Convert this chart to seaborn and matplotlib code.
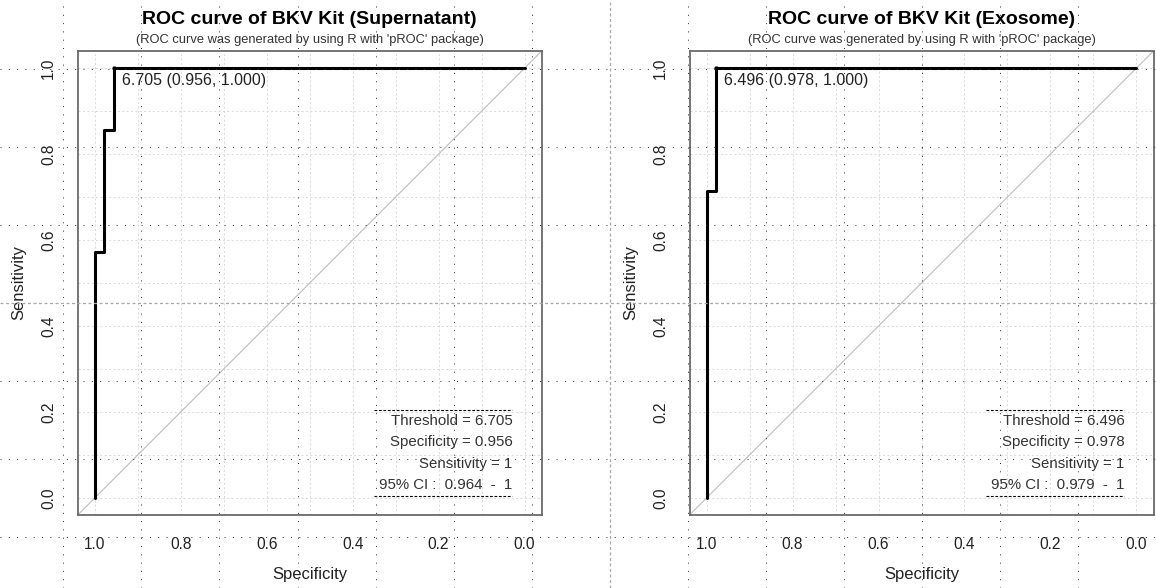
import numpy as np
import pandas as pd
import matplotlib
matplotlib.use("Agg")
import matplotlib.pyplot as plt
import seaborn as sns
from matplotlib.lines import Line2D

# ---------------- data ----------------
panel_titles = ["ROC curve of BKV Kit (Supernatant)", "ROC curve of BKV Kit (Exosome)"]
subtitle = "(ROC curve was generated by using R with 'pROC' package)"

sup_spec = [1.0, 1.0, 0.978, 0.978, 0.956, 0.956, 0.0]
sup_sens = [0.0, 0.571, 0.571, 0.857, 0.857, 1.0, 1.0]
exo_spec = [1.0, 1.0, 0.978, 0.978, 0.0]
exo_sens = [0.0, 0.714, 0.714, 1.0, 1.0]

thresholds = [6.705, 6.496]
best_spec = [0.956, 0.978]
best_sens = [1.0, 1.0]
ci_low = [0.964, 0.979]
ci_high = [1, 1]

tick_values = [1.0, 0.8, 0.6, 0.4, 0.2, 0.0]
tick_labels = ["1.0", "0.8", "0.6", "0.4", "0.2", "0.0"]
grid_values = [round(v, 1) for v in np.arange(0, 1.01, 0.1)]

curves = [(sup_spec, sup_sens), (exo_spec, exo_sens)]

# ---------------- style ----------------
sns.set_style("white")
plt.rcParams["font.family"] = ["Liberation Sans", "DejaVu Sans"]

W, H = 1156, 588
fig = plt.figure(figsize=(W / 100, H / 100), dpi=100)

ax_px = [(77.7, 51, 464, 464), (689.5, 51, 464, 464)]
txt_col = "#222222"

for i, (l, t, w, h) in enumerate(ax_px):
    ax = fig.add_axes([l / W, 1 - (t + h) / H, w / W, h / H])
    spec, sens = curves[i]
    df = pd.DataFrame({"Specificity": spec, "Sensitivity": sens})

    # grid
    ax.set_xticks(grid_values, minor=True)
    ax.set_yticks(grid_values, minor=True)
    ax.grid(True, which="both", color="#dcdcdc", lw=0.75, ls=(0, (2, 2.2)))
    ax.set_axisbelow(True)

    # diagonal
    ax.axline((1, 0), (0, 1), color="#bdbdbd", lw=0.8, zorder=1)

    sns.lineplot(data=df, x="Specificity", y="Sensitivity", sort=False, estimator=None,
                 color="black", lw=2.2, ax=ax, zorder=3)
    sns.scatterplot(x=[best_spec[i]], y=[best_sens[i]], color="black", s=8,
                    edgecolor="black", ax=ax, zorder=4)
    ax.annotate(f"{thresholds[i]:.3f} ({best_spec[i]:.3f}, {best_sens[i]:.3f})",
                (best_spec[i], best_sens[i]), xytext=(6, -9), textcoords="offset points",
                ha="left", va="center", fontsize=11.5, color=txt_col)

    ax.set_xlim(1.04, -0.04)
    ax.set_ylim(-0.04, 1.04)
    ax.set_xticks(tick_values)
    ax.set_xticklabels(tick_labels)
    ax.set_yticks(tick_values[::-1])
    ax.set_yticklabels(tick_labels[::-1])
    ax.tick_params(which="major", direction="out", length=6.5, width=1, color="#444444",
                   labelsize=11.2, labelcolor=txt_col, pad=9.5)
    ax.tick_params(axis="y", labelrotation=90, pad=9)
    for lab in ax.get_yticklabels():
        lab.set_va("center")
    ax.tick_params(which="minor", length=0)
    for sp in ax.spines.values():
        sp.set_color("#6a6a6a")
        sp.set_linewidth(1.3)

    ax.set_xlabel("Specificity", fontsize=12, color=txt_col)
    ax.set_ylabel("Sensitivity", fontsize=12, color=txt_col)
    ax.xaxis.set_label_coords(0.5, -(574 - 515) / h)
    ax.yaxis.set_label_coords(-59.0 / w, 0.5)
    ax.xaxis.label.set_va("center")
    ax.yaxis.label.set_va("center")

    ax.text(0.5, 1 + 31 / h, panel_titles[i], transform=ax.transAxes, ha="center",
            va="center", fontsize=14, fontweight="bold", color="black")
    ax.text(0.5, 1 + 11 / h, subtitle, transform=ax.transAxes, ha="center",
            va="center", fontsize=9.3, color="#333333")

    # threshold box
    x_r, x_l = 0.028, 0.35
    lines = [f"Threshold = {thresholds[i]:.3f}",
             f"Specificity = {best_spec[i]:.3f}",
             f"Sensitivity = {best_sens[i]:g}",
             f"95% CI :  {ci_low[i]:.3f}  -  {ci_high[i]:g}"]
    ys = [0.178, 0.129, 0.079, 0.029]
    for s, yv in zip(lines, ys):
        ax.text(x_r, yv, s, ha="right", va="center", fontsize=10.8, color="#333333", zorder=5)
    for yv in (0.205, 0.004):
        ax.plot([x_l, x_r], [yv, yv], color="black", lw=0.8, ls=(0, (2.5, 1.5)), zorder=5)

# ------------- page overlay grid (as in the reference screenshot) -------------
for k in range(14):
    x = (63.3 + 78.08 * k) / W
    if k == 7:
        fig.add_artist(Line2D([x, x], [0, 1], transform=fig.transFigure, color="#a8a8a8",
                              lw=0.9, ls=(0, (2.4, 2.0)), zorder=10))
    else:
        fig.add_artist(Line2D([x, x], [0, 1], transform=fig.transFigure, color="#333333",
                              lw=0.72, ls=(0, (1, 7.3)), zorder=10))
for k in range(7):
    y = 1 - (68.7 + 78.1 * k) / H
    if k == 3:
        fig.add_artist(Line2D([0, 1], [y, y], transform=fig.transFigure, color="#a8a8a8",
                              lw=0.9, ls=(0, (2.4, 2.0)), zorder=10))
    else:
        fig.add_artist(Line2D([0, 1], [y, y], transform=fig.transFigure, color="#333333",
                              lw=0.72, ls=(0, (1, 7.3)), zorder=10))

fig.savefig("out.png", dpi=100)
